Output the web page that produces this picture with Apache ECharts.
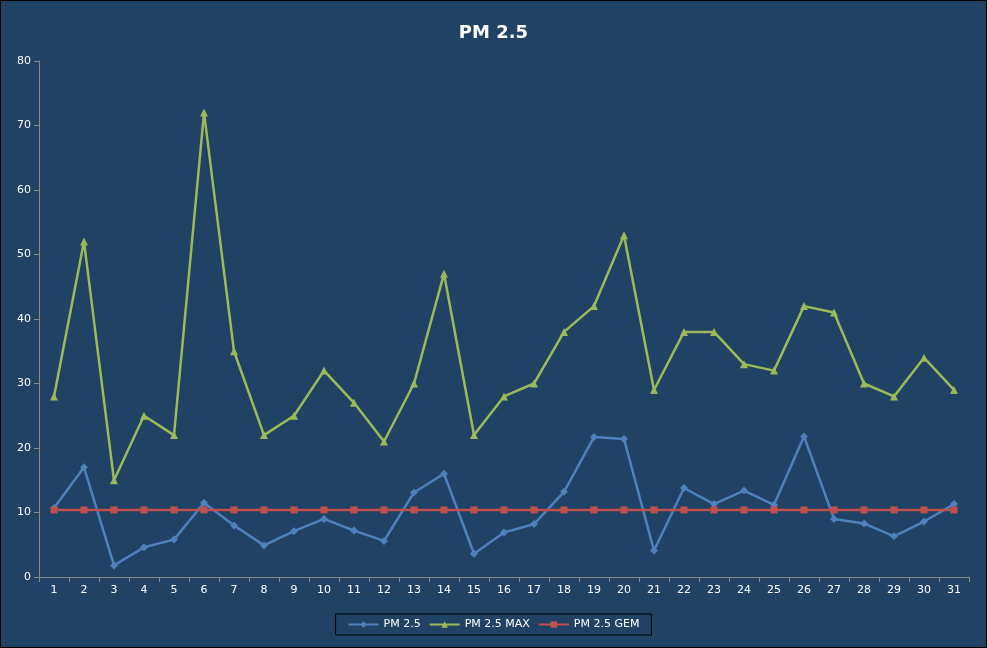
<!DOCTYPE html>
<html><head><meta charset="utf-8">
<script src="https://cdn.jsdelivr.net/npm/echarts@6/dist/echarts.min.js"></script>
<style>html,body{margin:0;padding:0;background:#fff}#c{width:985px;height:646px;border:1px solid #000}</style>
</head><body><div id="c"></div>
<script>
var categories = [];
for (var i = 1; i <= 31; i++) categories.push(String(i));
var pm25 = [10.7,17,1.8,4.6,5.8,11.5,8,4.9,7.1,9,7.2,5.6,13.1,16,3.6,6.9,8.2,13.2,21.7,21.4,4.1,13.8,11.3,13.4,11.2,21.8,9,8.3,6.3,8.6,11.3];
var pm25max = [28,52,15,25,22,72,35,22,25,32,27,21,30,47,22,28,30,38,42,53,29,38,38,33,32,42,41,30,28,34,29];
var pm25gem = categories.map(function(){return 10.4;});
var chart = echarts.init(document.getElementById('c'));
var txt = '#ffffff';
chart.setOption({
  backgroundColor: '#1f4265',
  title: {text: 'PM 2.5', left: 'center', top: 18, textStyle: {color: '#fff', fontSize: 18, fontWeight: 'bold', fontFamily: 'DejaVu Sans'}},
  grid: {left: 38, right: 17, top: 60, bottom: 70},
  xAxis: {type: 'category', data: categories, boundaryGap: true,
    axisLine: {lineStyle: {color: '#888'}}, axisTick: {show: true, lineStyle: {color: '#888'}},
    axisLabel: {color: txt, fontSize: 11, fontFamily: 'DejaVu Sans'}},
  yAxis: {type: 'value', min: 0, max: 80, interval: 10,
    axisLine: {show: true, lineStyle: {color: '#888'}}, axisTick: {show: true, lineStyle: {color: '#888'}},
    splitLine: {show: false}, axisLabel: {color: txt, fontSize: 11, fontFamily: 'DejaVu Sans'}},
  legend: {bottom: 12, left: 'center', itemWidth: 30, itemHeight: 8, padding: [5, 12],
    borderColor: '#000', borderWidth: 1, textStyle: {color: txt, fontSize: 11, fontFamily: 'DejaVu Sans'},
    data: ['PM 2.5', 'PM 2.5 MAX', 'PM 2.5 GEM']},
  series: [
    {name: 'PM 2.5', type: 'line', data: pm25, symbol: 'diamond', symbolSize: 8, color: '#4f81bd', lineStyle: {width: 2.5}},
    {name: 'PM 2.5 MAX', type: 'line', data: pm25max, symbol: 'triangle', symbolSize: 8, color: '#9bbb59', lineStyle: {width: 2.5}},
    {name: 'PM 2.5 GEM', type: 'line', data: pm25gem, symbol: 'rect', symbolSize: 7, color: '#c0504d', lineStyle: {width: 2.5}}
  ]
});
</script></body></html>
